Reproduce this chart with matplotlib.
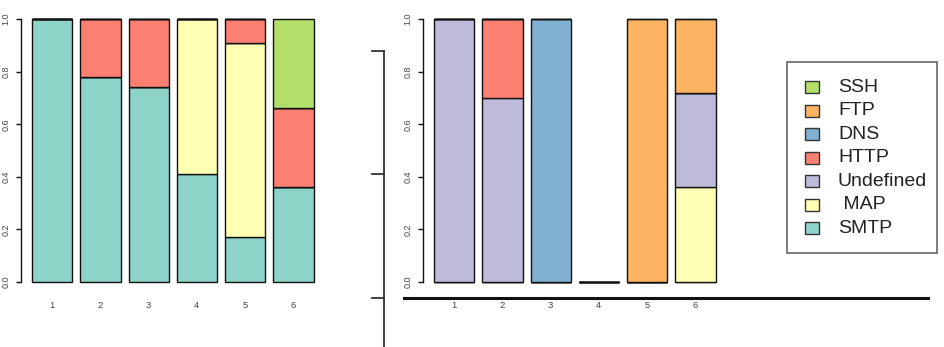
import matplotlib
matplotlib.use("Agg")
import matplotlib.pyplot as plt
from matplotlib.patches import Rectangle
from matplotlib.lines import Line2D
import numpy as np

plt.rcParams['font.family'] = ['Liberation Sans', 'DejaVu Sans']

# ---- data ----
categories = ["1", "2", "3", "4", "5", "6"]
series_names = ["SMTP", " MAP", "Undefined", "HTTP", "DNS", "FTP", "SSH"]  # bottom -> top
series_colors = ["#8DD3C7", "#FFFFB3", "#BEBADA", "#FB8072", "#80B1D3", "#FDB462", "#B3DE69"]

left_smtp      = [1.00, 0.78, 0.74, 0.41, 0.17, 0.36]
left_map       = [0.00, 0.00, 0.00, 0.59, 0.74, 0.00]
left_undefined = [0.00, 0.00, 0.00, 0.00, 0.00, 0.00]
left_http      = [0.00, 0.22, 0.26, 0.00, 0.09, 0.30]
left_dns       = [0.00, 0.00, 0.00, 0.00, 0.00, 0.00]
left_ftp       = [0.00, 0.00, 0.00, 0.00, 0.00, 0.00]
left_ssh       = [0.00, 0.00, 0.00, 0.00, 0.00, 0.34]

right_smtp      = [0.00, 0.00, 0.00, 0.00, 0.00, 0.00]
right_map       = [0.00, 0.00, 0.00, 0.00, 0.00, 0.36]
right_undefined = [1.00, 0.70, 0.00, 0.00, 0.00, 0.36]
right_http      = [0.00, 0.30, 0.00, 0.00, 0.00, 0.00]
right_dns       = [0.00, 0.00, 1.00, 0.00, 0.00, 0.00]
right_ftp       = [0.00, 0.00, 0.00, 0.00, 1.00, 0.28]
right_ssh       = [0.00, 0.00, 0.00, 0.00, 0.00, 0.00]

y_ticks = [0.0, 0.2, 0.4, 0.6, 0.8, 1.0]
y_tick_labels = ["0.0", "0.2", "0.4", "0.6", "0.8", "1.0"]

left_data = [left_smtp, left_map, left_undefined, left_http, left_dns, left_ftp, left_ssh]
right_data = [right_smtp, right_map, right_undefined, right_http, right_dns, right_ftp, right_ssh]

W, H = 945, 347
fig = plt.figure(figsize=(W / 100, H / 100), dpi=100)

def fx(x):
    return x / W

def fy(y):
    return 1 - y / H

tick_color = "#444444"

def draw_panel(ax, data):
    pos = 0.7 + 1.2 * np.arange(len(categories))
    bottom = np.zeros(len(categories))
    for vals, col in zip(data, series_colors):
        v = np.array(vals)
        ax.bar(pos, v, width=1.0, bottom=bottom, color=col, edgecolor="#111111",
               linewidth=1.0, zorder=2)
        bottom = bottom + v
    ax.set_xlim(-0.08, 7.48)
    ax.set_ylim(-0.04, 1.04)
    for s in ["top", "right", "bottom"]:
        ax.spines[s].set_visible(False)
    ax.spines["left"].set_bounds(0, 1)
    ax.spines["left"].set_linewidth(1.0)
    ax.spines["left"].set_color("#111111")
    ax.set_yticks(y_ticks)
    ax.set_yticklabels(y_tick_labels, rotation=90, va="center", fontsize=6.5, color=tick_color)
    ax.tick_params(axis="y", length=3.6, width=1.0, pad=4.0, color="#111111")
    ax.set_xticks(pos)
    ax.set_xticklabels(categories, fontsize=6.8, color=tick_color)
    ax.tick_params(axis="x", length=0, pad=6.0)
    ax.patch.set_visible(False)

ax1 = fig.add_axes([fx(20.8), fy(292.5), 304 / W, 284 / H])
draw_panel(ax1, left_data)
ax2 = fig.add_axes([fx(422.8), fy(292.5), 304 / W, 284 / H])
draw_panel(ax2, right_data)

# extra axis decoration
fig.add_artist(Line2D([fx(404), fx(928)], [fy(298), fy(298)], color="#111111", lw=2.2))
fig.add_artist(Line2D([fx(384), fx(384)], [fy(51), fy(360)], color="#333333", lw=1.3))
for ty in [51, 174, 298]:
    fig.add_artist(Line2D([fx(372), fx(384)], [fy(ty), fy(ty)], color="#333333", lw=1.3))

# legend (drawn manually, R style)
fig.add_artist(Rectangle((fx(787), fy(253)), (937 - 787) / W, (253 - 62) / H,
                         transform=fig.transFigure, facecolor="white",
                         edgecolor="#666666", lw=1.2))
leg_names = series_names[::-1]
leg_colors = series_colors[::-1]
for i, (nm, col) in enumerate(zip(leg_names, leg_colors)):
    yc = 87.3 + 23.5 * i
    fig.add_artist(Rectangle((fx(805), fy(yc + 6)), 14 / W, 12 / H,
                             transform=fig.transFigure, facecolor=col,
                             edgecolor="#333333", lw=1.0))
    fig.text(fx(838), fy(yc), nm, fontsize=14, va="center", ha="left", color="#222222")

fig.savefig("out.png", dpi=100)
